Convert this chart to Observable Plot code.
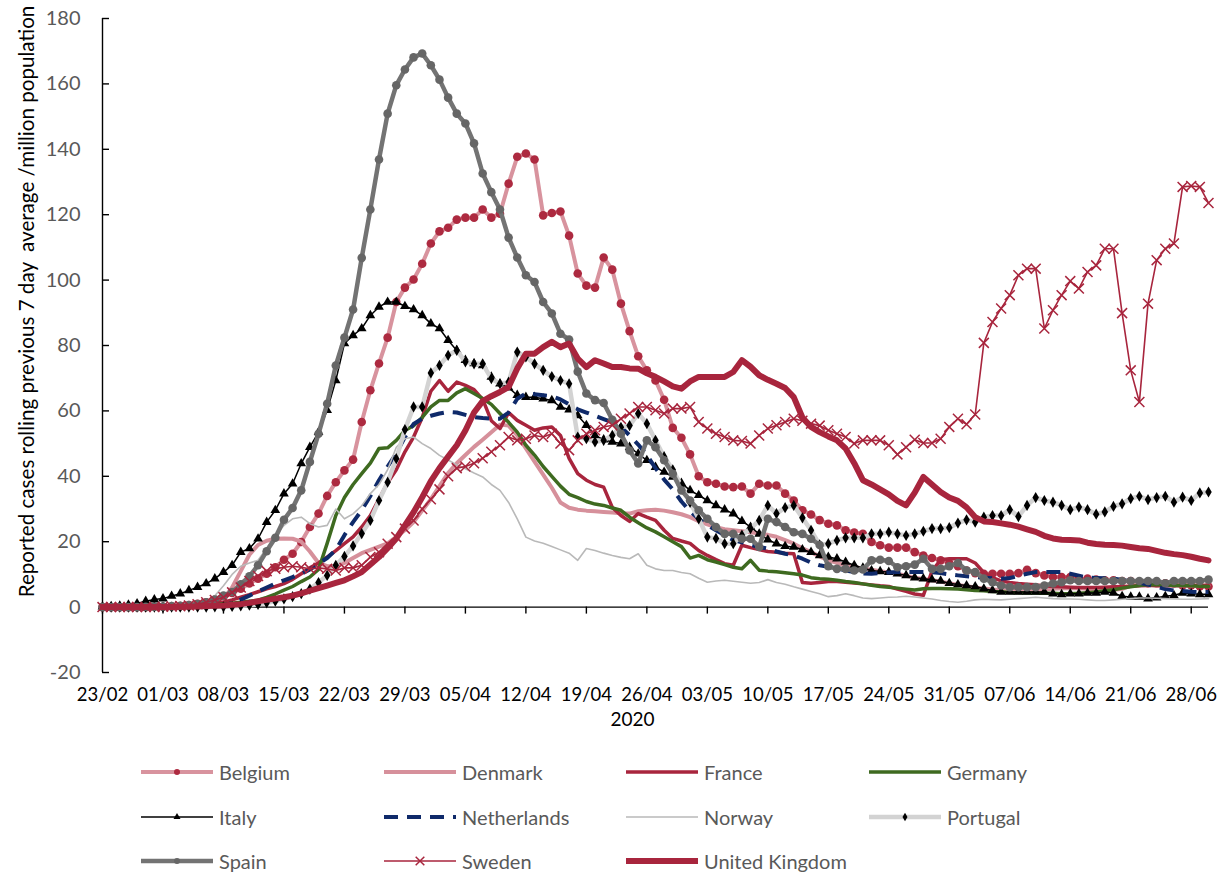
<!DOCTYPE html>
<html>
<head>
<meta charset="utf-8">
<script src="https://cdn.jsdelivr.net/npm/d3@7"></script>
<script src="https://cdn.jsdelivr.net/npm/@observablehq/plot@0.6"></script>
<style>
  html, body { margin: 0; padding: 0; background: #fff; }
  #wrap { position: relative; width: 1221px; height: 875px; overflow: hidden; font-family: Lato, "Open Sans", sans-serif; }
  #legend { position: absolute; left: 0; top: 0; width: 1221px; height: 875px; }
  .item { position: absolute; display: flex; align-items: center; font-size: 20px; color: #595959; white-space: nowrap; }
  .item span { margin-left: 6px; }
</style>
</head>
<body>
<div id="wrap"><div id="chart"></div><div id="legend"></div></div>
<script>
// ---------- data (daily values, 23/02/2020 .. 30/06/2020) ----------
const startDate = "23/02/2020";
const xTickLabels = ["23/02","01/03","08/03","15/03","22/03","29/03","05/04","12/04","19/04","26/04","03/05","10/05","17/05","24/05","31/05","07/06","14/06","21/06","28/06"];
const yTicks = [-20, 0, 20, 40, 60, 80, 100, 120, 140, 160, 180];
const yTitle = ["Reported cases rolling previous 7 day  average /million population"];
const xTitle = ["2020"];
const countries = ["Belgium","Denmark","France","Germany","Italy","Netherlands","Norway","Portugal","Spain","Sweden","United Kingdom"];

const belgium = [0,0,0,0,0,0,0.1,0.1,0.2,0.3,
0.6,1.0,1.5,2.3,3.2,4.3,5.6,7.2,8.7,10.2,
12.2,14.5,16.3,19.9,24.5,28.6,34.0,38.2,41.8,45.1,
56.6,66.3,74.5,82.4,93.3,97.7,100.2,105.0,111.2,114.9,
116.0,118.5,119.1,119.1,121.6,119.1,120.3,129.5,137.7,138.7,
136.9,119.8,120.5,121.0,113.6,102.0,98.3,97.7,106.9,103.2,
92.8,84.4,76.7,72.4,69.3,63.4,54.8,51.8,46.7,40.0,
38.2,37.7,36.9,36.7,36.9,34.7,37.7,37.2,37.2,34.7,
32.6,29.6,28.3,26.6,25.5,25.0,23.5,22.8,22.4,19.9,
18.9,18.2,18.2,18.2,16.8,15.8,15.0,14.3,13.5,12.5,
11.2,10.4,10.2,10.2,10.2,10.2,10.4,11.4,10.4,9.7,
9.2,9.2,9.2,8.7,8.7,8.4,8.2,8.2,8.0,8.0,
7.6,7.3,7.3,7.3,7.2,6.6,6.6,6.3,6.3];

const denmark = [0,0,0,0,0,0,0,0,0,0.1,
0.2,0.3,0.5,1.0,2.5,6,11,16,19,20.3,
20.9,21,20.9,20,17,13.5,12.5,12.5,13.5,15,
16.5,17.5,18.5,19.5,21.5,23.5,26,29.5,33,37,
41,44,46.5,49,51.2,53.5,55.8,55.5,52.5,48.5,
44.5,40.5,36.5,32,30.4,29.8,29.5,29.3,29.1,28.9,
28.7,28.6,29.3,29.6,29.8,29.5,29,28.4,27.5,26.3,
25.3,24.4,23.8,23.5,23.2,22.9,22.5,22.1,21.5,20.5,
19.4,18.0,16.8,15.5,14.3,13.5,12.8,12.2,11.8,11.4,
11,10.6,10.2,9.6,9.0,8.6,8.2,7.8,7.3,6.8,
6.4,6.0,5.7,5.4,5.2,5.0,5.0,5.0,5.2,5.4,
5.6,5.8,5.8,5.8,5.6,5.4,5.2,5.2,5.6,6.5,
7.5,7.0,6.5,6.5,6.6,6.6,6.6,6.6,6.6];

const france = [0,0,0,0,0,0.1,0.1,0.1,0.2,0.2,
0.3,0.4,0.6,1.0,1.5,2.2,3.0,3.8,4.7,5.6,
6.3,7.2,8.5,10.2,12,13.5,15.3,17.3,19.4,21.5,
24.5,28,33,38,42,47.5,52,58,66,69.3,
66,68.8,67.8,66.5,63.5,57,54.6,59.5,57.1,55.6,
54.1,54.8,55.1,52.5,45.5,40.8,38.8,37.5,36.7,30.5,
28,26.2,28.6,27.5,26.5,23.5,21,20.2,19.5,17.3,
15.8,14.5,13.3,12.8,18.9,18.2,17.6,17.0,16.8,16.5,
16.3,7.5,7.3,7.5,7.8,7.8,7.6,7.4,7.1,6.8,
6.5,6.3,5.5,4.8,4.0,3.6,11,14.5,14.8,14.8,
14.8,13.5,10.5,9.0,8.0,7.5,7.2,7.0,6.8,6.5,
6.3,6.2,6.1,6.0,6.0,6.0,6.1,6.2,6.3,6.4,
6.5,6.6,6.6,6.6,6.6,6.6,6.6,6.6,6.6];

const germany = [0,0,0,0,0,0,0,0.1,0.1,0.1,
0.2,0.4,0.6,0.8,1.0,1.2,1.5,1.8,2.1,3.0,
4.0,5.2,6.3,7.8,9.2,11.5,19.5,28,33.5,37.5,
40.8,44,48.5,48.7,51,54,55.5,58,61.2,63.2,
63.2,65.5,66.8,65.3,63.8,62,59.2,56.5,53.5,49.5,
46.5,43,40,37,34.5,33.5,32.3,31.5,31.1,30.3,
29.6,27.5,25.8,24.2,23,21.5,20,18.5,15,15.8,
14.5,13.8,13,12.2,11.7,14.3,11.3,11,10.8,10.5,
10.2,9.8,9,8.7,8.5,8.2,7.8,7.5,7.1,6.7,
6.3,6.1,5.8,5.5,5.2,5.6,5.7,5.7,5.6,5.5,
5.3,5.1,5.0,4.8,4.7,4.5,4.4,4.3,4.3,4.2,
4.2,4.1,4.1,4.2,4.4,4.6,5.0,5.3,5.8,6.2,
6.6,6.9,6.8,6.8,6.6,6.6,6.5,6.4,6.3];

const italy = [0.1,0.2,0.4,0.7,1.1,1.8,2.3,2.6,3.4,4.1,
5.1,6.1,7.2,8.7,10.7,12.8,16.8,17.9,20.9,26.0,
29.6,34.7,37.7,43.9,48.9,53.5,60.2,69.3,80.6,83.1,
85.2,89.2,91.8,93.3,93.3,92.0,91.0,89.2,86.7,85.2,
81.6,78.5,75.5,74.5,73.9,70.4,68.3,67.1,64.8,64.2,
64.2,63.7,63.2,61.2,60.4,58.6,55.6,52.5,51.2,50.5,
50.0,48.9,46.9,44.9,42.8,41.3,39.8,37.9,35.7,34.2,
32.6,31.1,29.8,28.6,26.3,24.5,22.4,20.6,19.4,18.6,
18.4,17.6,16.8,15.8,15.3,14.8,13.8,12.8,12.0,11.2,
10.9,10.7,10.2,9.7,9.0,8.7,8.4,8.0,7.3,6.9,
6.6,6.3,5.6,5.1,4.6,4.6,4.6,4.6,4.6,4.6,
4.1,3.9,4.1,4.1,4.3,4.3,4.6,4.3,3.3,3.1,
3.1,2.6,2.9,3.3,3.6,4.3,4.1,3.9,3.9];

const netherlands = [0,0,0,0,0,0,0,0,0.1,0.1,
0.2,0.3,0.4,0.5,0.6,1.2,2.3,3.5,4.8,6.0,
7.2,8.2,9.2,10.2,11.5,13.3,15,17.5,22,26,
29.6,34,38.8,43,47,52,56,57.6,58.5,59.2,
59.7,59.5,58.8,58.1,57.8,57.6,57.6,59.5,63.7,65.3,
65.1,64.8,64.5,63.5,62,60.5,59.5,58.5,57.5,56.5,
55.1,52.5,49.7,46.5,42.5,39,36,32.3,29.3,27,
25,23.5,22,20.5,19.8,19,18.4,17.9,17,16.3,
15.8,14.8,13.6,12.8,12.3,11.8,11.2,10.7,10.3,10.2,
10.4,10.6,10.7,10.7,10.7,10.7,10.7,10.4,10,9.7,
9.4,9.2,9.0,8.8,8.7,8.9,9.5,10.2,10.7,10.7,
10.7,10.7,10.2,9.6,9.0,8.9,8.8,8.7,8.3,7.9,
7.4,6.9,6.2,5.5,5.1,4.9,4.7,4.6,4.6];

const norway = [0,0,0,0,0,0,0,0,0.1,0.2,
0.3,0.5,1.5,3.5,6.5,10,12.5,13.5,14.3,18,
22,25,27,27.5,25.5,24.5,25,30,27,28.5,
31,34.7,37.5,42,48.9,51.5,52,50,48.5,46.4,
45,43.5,42.3,41,39.8,37.5,35.7,32,27,21.4,
20.2,19.5,18.5,17.5,16.5,14.3,17.9,17.3,16.5,15.8,
15.2,14.8,16.3,12.8,11.7,11.2,11.2,10.6,10.2,8.8,
7.6,8.0,8.2,7.9,7.6,7.3,7.5,8.4,7.5,7.0,
6.2,5.5,4.8,4.1,3.2,3.5,4.1,3.5,2.8,2.6,
2.8,3.0,3.1,3.3,3.1,2.8,2.5,2.0,1.7,1.5,
1.8,2.2,2.4,2.3,2.2,2.4,2.6,2.8,3.0,2.8,
2.6,2.5,2.5,2.4,2.2,2.0,2.0,2.2,2.4,2.6,
2.8,2.8,2.7,2.6,2.5,2.4,2.4,2.5,2.6];

const portugal = [0,0,0,0,0,0,0,0,0,0,
0,0,0,0.1,0.1,0.2,0.4,0.6,0.8,1.3,
1.8,2.5,3.2,4.1,5.5,7.5,9.7,12.8,15.5,18.7,
22.5,26.5,32.6,38.2,45.4,54.3,61.2,61.2,71.6,73.9,
77.0,78.5,75.0,74.4,74.4,69.9,68.3,68.8,78.0,76.5,
74.4,72.4,70.5,69.3,68.3,52.0,51.5,50.5,51.0,52.5,
55.0,55.5,59.2,56.1,51.0,46,42,37,32,27,
21.4,21.0,19.4,19.4,22.0,24.0,26.5,31.1,28.6,30.4,
31.1,27.3,23.5,19.0,19.4,20.4,21.2,21.2,21.2,22.4,
22.4,22.9,22.4,21.9,22.4,23.2,24.0,24.0,24.3,25.7,
26.7,26.0,27.5,28.0,28.0,29.8,27.7,31.1,33.5,32.6,
32.1,31.1,29.8,30.6,29.8,28.4,29.1,30.8,31.6,33.2,
33.9,32.9,33.5,33.9,32.1,33.6,32.6,34.9,35.2];

const spain = [0,0,0,0,0,0.1,0.1,0.2,0.3,0.4,
0.6,0.9,1.5,2.3,3.5,4.6,7.0,9.4,12.8,17.1,
21.2,26.7,30.3,35.7,44.4,53.0,62.2,73.9,82.4,91.0,
106.8,121.6,136.9,150.9,159.6,164.4,168.1,169.3,165.7,161.3,
155.8,150.9,147.9,141.8,132.6,126.9,121.6,113.0,106.9,101.5,
99.4,93.3,89.8,83.6,81.8,72.0,65.3,63.3,62.4,57.3,
53.0,47.9,43.9,51.0,48.9,44.9,40.8,35.7,32.6,29.6,
27.0,24.5,22.4,22.4,20.9,20.9,18.4,27.0,26.0,24.5,
22.9,22.4,20.9,19.0,12.5,11.7,11.7,11.2,11.5,14.3,
14.5,14.1,12.2,12.5,13.0,14.8,11.7,11.7,12.5,13.5,
11.2,10.7,8.7,7.6,6.6,6.1,6.1,6.1,6.1,6.6,
7.2,7.6,8.2,8.0,8.0,8.0,8.0,8.0,8.0,8.0,
8.0,8.0,8.0,7.3,8.0,8.0,8.0,8.0,8.4];

const sweden = [0,0,0,0,0,0,0,0.1,0.2,0.3,
0.5,0.9,1.5,2.2,3.0,4.5,6.0,8.0,9.5,11.0,
11.7,12.2,12.5,12.2,11.7,12.0,11.7,11.2,12.0,12.0,
12.8,15.3,16.8,19.4,21.4,24,26.5,30,33,36,
40,42.5,43,44,45.5,47.5,49.5,52.0,51.0,51.5,
52.5,52.0,53.0,50.0,48.0,51.0,53.0,54.1,55.1,55.6,
57.6,59.2,61.2,61.2,60.2,59.2,60.7,60.7,61.2,56.6,
54.6,53.0,52.0,51.0,50.8,50.0,52.5,54.6,55.6,56.6,
57.6,57.0,56.1,55.5,54.1,53.0,52.0,50.0,51.0,51.0,
51.0,49.5,46.7,48.9,51.2,50.2,50.2,51.5,55.1,57.6,
55.9,58.9,80.8,87.2,91.3,95.4,101.5,103.5,103.5,85.2,
90.8,95.4,99.7,97.4,102.5,104.5,109.6,109.6,89.9,72.4,
62.7,92.8,106.1,109.6,111.2,128.5,128.8,128.5,123.6];

const unitedKingdom = [0,0,0,0,0,0,0,0,0,0.1,
0.1,0.2,0.3,0.4,0.5,0.7,0.9,1.3,1.8,2.2,
2.6,3.0,3.5,4.2,5.0,5.8,6.6,7.4,8.2,9.4,
10.7,13,15.3,18,21,25,29,33.6,38.5,42.5,
46,49.5,54,59.5,63,64.5,65.8,67.3,73,77.5,
77.5,79.5,81.1,79.5,80.6,76,73.4,75.5,74.5,73.4,
73.4,73,72.9,71.5,70.4,69,67.5,66.8,69,70.4,
70.4,70.4,70.4,71.9,75.5,73.5,70.9,69.5,68.3,67,
64.2,58,55.1,53.5,52.2,51,48.5,44,38.8,37.5,
36,34.5,32.5,31.1,35,39.8,37.5,35.2,33.5,32.5,
30.5,27.5,26.2,26.0,25.6,25.2,24.6,23.8,23.0,21.8,
21.0,20.6,20.5,20.4,19.7,19.3,19.1,19.0,18.8,18.4,
18.0,17.8,17.2,16.6,16.2,15.9,15.4,14.8,14.3];

// ---------- table built from the arrays ----------
const seriesValues = {
  "Belgium": belgium, "Denmark": denmark, "France": france, "Germany": germany,
  "Italy": italy, "Netherlands": netherlands, "Norway": norway, "Portugal": portugal,
  "Spain": spain, "Sweden": sweden, "United Kingdom": unitedKingdom
};
const parseDate = d3.utcParse("%d/%m/%Y");
const day0 = parseDate(startDate);
const rows = countries.flatMap(c => seriesValues[c].map((v, i) => ({country: c, date: d3.utcDay.offset(day0, i), value: v})));
const lastDate = d3.max(rows, d => d.date);
const xTickDates = xTickLabels.map(s => parseDate(s + "/2020"));

// ---------- styles ----------
const crimson = "#a8253d";
const styles = {
  "Belgium":        {stroke: "#d8939e", strokeWidth: 4,   marker: {symbol: "circle",   fill: "#ad2a40", r: 4.3}, legendR: 3},
  "Denmark":        {stroke: "#d6909b", strokeWidth: 4},
  "France":         {stroke: crimson,   strokeWidth: 3.5},
  "Germany":        {stroke: "#3e6a20", strokeWidth: 3.5},
  "Italy":          {stroke: "#000000", strokeWidth: 1.5, marker: {symbol: "triangle", fill: "#000", r: 3.6}, legendR: 2.6},
  "Netherlands":    {stroke: "#0f2a6a", strokeWidth: 4,   dash: "14,9"},
  "Norway":         {stroke: "#b9b9b9", strokeWidth: 1.6},
  "Portugal":       {stroke: "#d3d3d3", strokeWidth: 4.5, marker: {symbol: "diamond",  fill: "#000", r: 3.4}, legendR: 2.6},
  "Spain":          {stroke: "#737373", strokeWidth: 4.5, marker: {symbol: "circle",   fill: "#666", r: 4.3}, legendR: 3},
  "Sweden":         {stroke: crimson,   strokeWidth: 1.6, marker: {symbol: "times",    stroke: crimson, r: 4.6, strokeWidth: 1.5}, legendR: 4},
  "United Kingdom": {stroke: crimson,   strokeWidth: 6}
};

const seriesMarks = countries.flatMap(c => {
  const s = styles[c];
  const data = rows.filter(d => d.country === c);
  const out = [Plot.line(data, {x: "date", y: "value", stroke: s.stroke, strokeWidth: s.strokeWidth,
    strokeDasharray: s.dash, strokeLinejoin: "round", strokeLinecap: s.dash ? "butt" : "round"})];
  if (s.marker) {
    const m = s.marker;
    out.push(Plot.dot(data, {x: "date", y: "value", symbol: m.symbol, r: m.r,
      fill: m.fill || "none", stroke: m.stroke || "none", strokeWidth: m.strokeWidth || 1}));
  }
  return out;
});

const chart = Plot.plot({
  width: 1221,
  height: 740,
  marginLeft: 102,
  marginRight: 13,
  marginTop: 18,
  marginBottom: 68,
  x: {type: "utc", domain: [day0, lastDate]},
  y: {domain: [-20, 180]},
  style: {fontFamily: "Lato, 'Open Sans', sans-serif", background: "#fff", overflow: "visible"},
  marks: [
    Plot.axisY(yTicks, {tickSize: 0, tickPadding: 22, fontSize: 20, fill: "#595959", label: null, tickFormat: d => String(d)}),
    Plot.axisX(xTickDates, {tickSize: 0, tickPadding: 15, fontSize: 18.5, fill: "#000", label: null, tickFormat: d3.utcFormat("%d/%m")}),
    Plot.ruleX([day0], {stroke: "#000", strokeWidth: 1.4}),
    Plot.ruleY(yTicks, {x1: () => day0, x2: () => day0, insetRight: -7, stroke: "#000", strokeWidth: 1.4}),
    Plot.ruleY([0], {stroke: "#000", strokeWidth: 1.4}),
    Plot.ruleX(xTickDates, {x: d => d, y1: 0, y2: 0, insetBottom: -7, stroke: "#000", strokeWidth: 1.4}),
    ...seriesMarks,
    Plot.text(xTitle, {text: d => d, frameAnchor: "bottom", dx: -23, dy: 47, lineAnchor: "middle", textAnchor: "middle", fontSize: 19, fill: "#000"}),
    Plot.text(yTitle, {text: d => d, frameAnchor: "left", rotate: -90, dx: -75, dy: -44, lineAnchor: "middle", textAnchor: "middle", fontSize: 20.6, fill: "#000"})
  ]
});
document.getElementById("chart").appendChild(chart);

// ---------- legend (below the plot) ----------
const legendCols = [141, 384, 626, 869];
const legendRows = [772, 817, 861];
const symbolTypes = {circle: d3.symbolCircle, triangle: d3.symbolTriangle, diamond: d3.symbolDiamond, times: d3.symbolTimes};
const legend = document.getElementById("legend");
countries.forEach((c, i) => {
  const s = styles[c];
  const col = i % 4, row = Math.floor(i / 4);
  const item = document.createElement("div");
  item.className = "item";
  item.style.left = legendCols[col] + "px";
  item.style.top = (legendRows[row] - 14) + "px";
  let svg = `<svg width="72" height="28" style="overflow:visible">`;
  svg += `<line x1="0" x2="72" y1="14" y2="14" stroke="${s.stroke}" stroke-width="${s.strokeWidth}" ${s.dash ? `stroke-dasharray="${s.dash}"` : ""}/>`;
  if (s.marker) {
    const m = s.marker;
    const r = s.legendR;
    const p = d3.symbol(symbolTypes[m.symbol], r * r * Math.PI)();
    svg += `<path transform="translate(36,14)" d="${p}" fill="${m.fill || "none"}" stroke="${m.stroke || "none"}" stroke-width="${m.strokeWidth || 1}"/>`;
  }
  svg += `</svg>`;
  item.innerHTML = svg + `<span>${c}</span>`;
  legend.appendChild(item);
});
</script>
</body>
</html>
